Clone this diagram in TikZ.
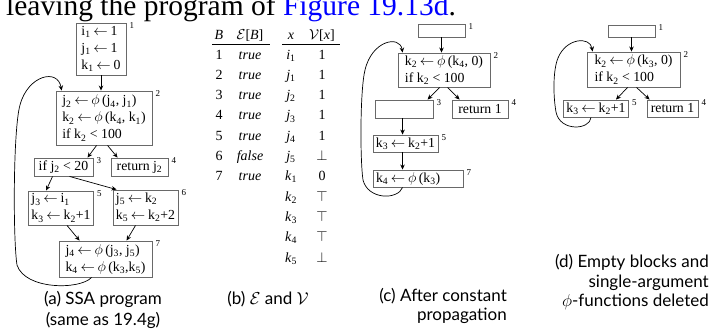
\documentclass[tikz,border=0pt]{standalone}
\usepackage{fontspec}
\setmainfont{Liberation Serif}
\newfontfamily\capfont{Lato}
\usetikzlibrary{arrows.meta,calc}
\definecolor{linkblue}{RGB}{0,0,255}
\definecolor{boxgray}{RGB}{105,105,105}
\newcommand\sbs[1]{\textsubscript{#1}}
\newcommand\lar{\hspace{0.2em}$\leftarrow$\hspace{0.2em}}
\tikzset{
  blk/.style={draw=boxgray, line width=0.9pt, rectangle, inner xsep=3pt, inner ysep=0pt,
    align=left, font=\fontsize{13.8}{17}\selectfont, anchor=center},
  bnum/.style={font=\fontsize{9}{9}\selectfont, inner sep=0pt, anchor=north west},
  flow/.style={-{Stealth[length=5pt,width=4.5pt]}, line width=0.7pt},
  tab/.style={font=\fontsize{14}{14}\selectfont, inner sep=0pt, anchor=base},
  captxt/.style={font=\capfont\fontsize{17}{17}\selectfont, inner sep=0pt},
}
\begin{document}
\begin{tikzpicture}[x=1pt,y=-1pt]
\useasboundingbox (0,0) rectangle (714,332);
% top line of running text
\node[anchor=base west, inner sep=0pt, font=\fontsize{29.5}{29.5}\selectfont] (toptext) at (6,16)
  {leaving the program of \textcolor{linkblue}{Figure 19.13d}.};

% ---------- (a) ----------
\node[blk, minimum width=50pt, minimum height=52pt] (a1) at (101,49)
  {i\sbs{1}\lar 1\\ j\sbs{1}\lar 1\\ k\sbs{1}\lar 0};
\node[blk, minimum width=96pt, minimum height=54pt] (a2) at (104,118)
  {j\sbs{2}\lar$\phi$\,(j\sbs{4}, j\sbs{1})\\ k\sbs{2}\lar$\phi$\,(k\sbs{4}, k\sbs{1})\\ if k\sbs{2} < 100};
\node[blk, minimum width=59pt, minimum height=18pt] (a3) at (63.5,167) {if j\sbs{2} < 20};
\node[blk, minimum width=57pt, minimum height=18pt] (a4) at (139.5,167) {return j\sbs{2}};
\node[blk, minimum width=64pt, minimum height=34pt] (a5) at (61,208)
  {j\sbs{3}\lar i\sbs{1}\\ k\sbs{3}\lar k\sbs{2}+1};
\node[blk, minimum width=63pt, minimum height=35pt] (a6) at (145.5,207.5)
  {j\sbs{5}\lar k\sbs{2}\\ k\sbs{5}\lar k\sbs{2}+2};
\node[blk, minimum width=93pt, minimum height=36pt] (a7) at (105.5,259)
  {j\sbs{4}\lar$\phi$\,(j\sbs{3}, j\sbs{5})\\ k\sbs{4}\lar$\phi$\,(k\sbs{3},k\sbs{5})};
\foreach \b/\n in {a1/1,a2/2,a3/3,a4/4,a5/5,a6/6,a7/7}
  \node[bnum] (l\b) at ($(\b.north east)+(3,0)$) {\n};

\draw[flow] (a1.south) -- (a1.south |- a2.north);
\draw[flow] ($(a2.south west)+(41,0)$) -- ($(a3.north west)+(54,0)$);
\draw[flow] ($(a2.south west)+(52,0)$) -- ($(a4.north west)+(7,0)$);
\draw[flow] ($(a3.south west)+(19,0)$) -- ($(a5.north west)+(18,0)$);
\draw[flow] ($(a3.south west)+(36,0)$) -- ($(a6.north west)+(4,0)$);
\draw[flow] ($(a5.south west)+(39,0)$) -- ($(a7.north west)+(21,0)$);
\draw[flow] ($(a6.south west)+(23,0)$) -- ($(a7.north west)+(68,0)$);
\draw[flow] ($(a7.south west)+(33,0)$) .. controls (80,290) and (25,290) .. (17,265)
  .. controls (13,240) and (13,130) .. (20,105)
  .. controls (28,75) and (58,68) .. ($(a2.north west)+(6,0)$);

% ---------- (b) ----------
\node[tab] (hB) at (219,39) {\textit{B}};
\node[tab] (hE) at (250,39) {$\mathcal{E}$[\textit{B}]};
\node[tab] (hx) at (291,39) {\textit{x}};
\node[tab] (hV) at (322,39) {$\mathcal{V}$[\textit{x}]};
\draw[line width=0.7pt] (212,44) coordinate (r1a) -- (270,44) coordinate (r1b);
\draw[line width=0.7pt] (282,44) coordinate (r2a) -- (340,44) coordinate (r2b);
\foreach \i/\bb/\ee in {0/1/true,1/2/true,2/3/true,3/4/true,4/5/true,5/6/false,6/7/true}{
  \node[tab] (bn\i) at (219,59+20.3*\i) {\bb};
  \node[tab] (be\i) at (250,59+20.3*\i) {\textit{\ee}};
}
\foreach \i/\xx/\vv in {0/{\textit{i}\sbs{1}}/1,1/{\textit{j}\sbs{1}}/1,2/{\textit{j}\sbs{2}}/1,
   3/{\textit{j}\sbs{3}}/1,4/{\textit{j}\sbs{4}}/1,5/{\textit{j}\sbs{5}}/{$\bot$},
   6/{\textit{k}\sbs{1}}/0,7/{\textit{k}\sbs{2}}/{$\top$},8/{\textit{k}\sbs{3}}/{$\top$},
   9/{\textit{k}\sbs{4}}/{$\top$},10/{\textit{k}\sbs{5}}/{$\bot$}}{
  \node[tab] (bx\i) at (291,59+20.3*\i) {\xx};
  \node[tab] (bv\i) at (322,59+20.3*\i) {\vv};
}

% ---------- (c) ----------
\node[blk, minimum width=47pt, minimum height=13pt] (c1) at (441.5,30.5) {};
\node[blk, minimum width=92pt, minimum height=34pt] (c2) at (444,70)
  {k\sbs{2}\lar$\phi$\,(k\sbs{4}, 0)\\ if k\sbs{2} < 100};
\node[blk, minimum width=58pt, minimum height=18pt] (c3) at (404,109) {};
\node[blk, minimum width=56pt, minimum height=18pt] (c4) at (480,109) {return 1};
\node[blk, minimum width=65pt, minimum height=17pt] (c5) at (405.5,143.5) {k\sbs{3}\lar k\sbs{2}+1};
\node[blk, minimum width=90pt, minimum height=17pt, text width=84pt] (c7) at (418,178.5) {k\sbs{4}\lar$\phi$\,(k\sbs{3})};
\foreach \b/\n in {c1/1,c2/2,c3/3,c4/4,c5/5,c7/7}
  \node[bnum] (l\b) at ($(\b.north east)+(3,0)$) {\n};

\draw[flow] (c1.south) -- (c1.south |- c2.north);
\draw[flow] ($(c2.south west)+(42,0)$) -- ($(c3.north west)+(53,0)$);
\draw[flow] ($(c2.south west)+(50,0)$) -- ($(c4.north west)+(8,0)$);
\coordinate (c35) at ($(c3.south west)+(28,0)$);
\draw[flow] (c35) -- (c35 |- c5.north);
\coordinate (c57) at ($(c5.south west)+(30,0)$);
\draw[flow] (c57) -- (c57 |- c7.north);
\draw[flow] ($(c7.south west)+(30,0)$) .. controls (398,200) and (368,200) .. (363,180)
  .. controls (360,160) and (360,90) .. (365,70)
  .. controls (372,40) and (400,35) .. ($(c2.north west)+(5,0)$);

% ---------- (d) ----------
\node[blk, minimum width=47pt, minimum height=12pt] (d1) at (631.5,31) {};
\node[blk, minimum width=93pt, minimum height=35pt] (d2) at (633.5,69.5)
  {k\sbs{2}\lar$\phi$\,(k\sbs{3}, 0)\\ if k\sbs{2} < 100};
\node[blk, minimum width=62pt, minimum height=17pt] (d3) at (596,108.5) {k\sbs{3}\lar k\sbs{2}+1};
\node[blk, minimum width=51pt, minimum height=17pt] (d4) at (672.5,108.5) {return 1};
\foreach \b/\n in {d1/1,d2/2,d3/5,d4/4}
  \node[bnum] (l\b) at ($(\b.north east)+(3,0)$) {\n};

\draw[flow] (d1.south) -- (d1.south |- d2.north);
\draw[flow] ($(d2.south west)+(41,0)$) -- ($(d3.north west)+(53,0)$);
\draw[flow] ($(d2.south west)+(50,0)$) -- ($(d4.north west)+(3,0)$);
\draw[flow] ($(d3.south west)+(28,0)$) .. controls (590,130) and (560,132) .. (556,112)
  .. controls (553,95) and (553,70) .. (558,58)
  .. controls (566,38) and (590,36) .. ($(d2.north west)+(6,0)$);

% ---------- captions ----------
\node[captxt, anchor=base] (capa1) at (103,304) {(a) SSA program};
\node[captxt, anchor=base] (capa2) at (103,325) {(same as 19.4g)};
\node[captxt, anchor=base] (capb) at (268,304) {(b) $\mathcal{E}$ and $\mathcal{V}$};
\node[captxt, anchor=base east] (capc1) at (507,301) {(c) After constant};
\node[captxt, anchor=base east] (capc2) at (507,320) {propagation};
\node[captxt, anchor=base east] (capd1) at (709,267) {(d) Empty blocks and};
\node[captxt, anchor=base east] (capd2) at (709,287) {single-argument};
\node[captxt, anchor=base east] (capd3) at (709,306) {$\phi$-functions deleted};
\end{tikzpicture}
\end{document}
